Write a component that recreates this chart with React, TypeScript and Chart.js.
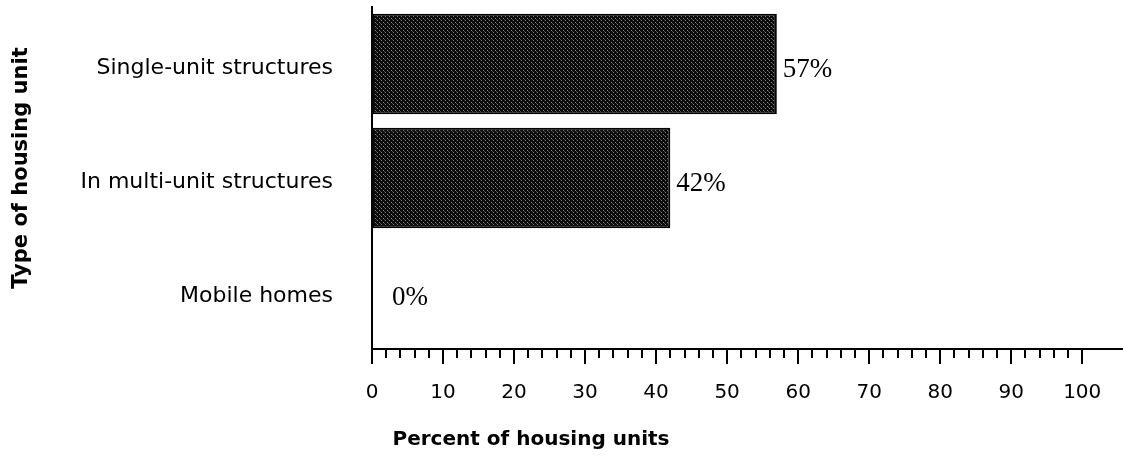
import React, { useEffect, useRef } from "react";
import { Chart, registerables } from "chart.js";

Chart.register(...registerables);

const categories = ["Single-unit structures", "In multi-unit structures", "Mobile homes"];
const percentValues = [57, 42, 0];
const xTickValues = [0, 10, 20, 30, 40, 50, 60, 70, 80, 90, 100];
const xMinorStep = 2;
const xAxisMax = 105.6;
const xTitle = "Percent of housing units";
const yTitle = "Type of housing unit";

function makePattern(): CanvasPattern | string {
  const c = document.createElement("canvas");
  c.width = 4;
  c.height = 4;
  const g = c.getContext("2d");
  if (!g) return "#222";
  g.fillStyle = "#0c0c0c";
  g.fillRect(0, 0, 4, 4);
  g.fillStyle = "#7a7a7a";
  g.fillRect(1, 0, 1, 1);
  g.fillRect(3, 2, 1, 1);
  g.fillStyle = "#4a4a4a";
  g.fillRect(0, 3, 1, 1);
  const p = g.createPattern(c, "repeat");
  return p || "#222";
}

const decorPlugin = {
  id: "decor",
  afterDraw(chart: any) {
    const ctx = chart.ctx;
    const xs = chart.scales.x;
    const ca = chart.chartArea;
    const axisY = xs.top;
    ctx.save();
    ctx.strokeStyle = "#000";
    ctx.lineWidth = 2;
    const last = xTickValues[xTickValues.length - 1];
    for (let v = xTickValues[0]; v <= last; v += xMinorStep) {
      const px = Math.round(xs.getPixelForValue(v));
      const major = v % 10 === 0;
      ctx.beginPath();
      ctx.moveTo(px, axisY);
      ctx.lineTo(px, axisY + (major ? 15 : 9));
      ctx.stroke();
    }
    // value labels
    const meta = chart.getDatasetMeta(0);
    ctx.fillStyle = "#000";
    ctx.font = '27px "Liberation Serif"';
    ctx.textBaseline = "middle";
    ctx.textAlign = "left";
    meta.data.forEach((bar: any, i: number) => {
      const v = percentValues[i];
      ctx.fillText(v + "%", bar.x + (v === 0 ? 20 : 6), bar.y + 6);
    });
    // axis titles
    ctx.font = 'bold 20px "DejaVu Sans"';
    ctx.textAlign = "center";
    ctx.fillText(xTitle, ca.left + 159, chart.height - 17);
    ctx.save();
    ctx.translate(22, (ca.top + ca.bottom) / 2 - 10);
    ctx.rotate(-Math.PI / 2);
    ctx.font = 'bold 21px "DejaVu Sans"';
    ctx.fillText(yTitle, 0, 0);
    ctx.restore();
    ctx.restore();
  },
};

export default function App() {
  const ref = useRef<HTMLCanvasElement | null>(null);
  useEffect(() => {
    if (!ref.current) return;
    Chart.defaults.font.family = '"DejaVu Sans"';
    Chart.defaults.color = "#000";
    const chart = new Chart(ref.current, {
      type: "bar",
      data: {
        labels: categories,
        datasets: [
          {
            data: percentValues,
            backgroundColor: makePattern() as any,
            borderColor: "#000",
            borderWidth: 2,
            borderSkipped: false,
            barPercentage: 0.88,
            categoryPercentage: 1,
          },
        ],
      },
      options: {
        indexAxis: "y",
        animation: false,
        responsive: true,
        maintainAspectRatio: false,
        layout: { padding: { top: 7, right: 1, bottom: 0, left: 0 } },
        plugins: { legend: { display: false }, tooltip: { enabled: false } },
        scales: {
          x: {
            type: "linear",
            min: 0,
            max: xAxisMax,
            afterBuildTicks: (scale: any) => {
              scale.ticks = xTickValues.map((v) => ({ value: v }));
            },
            afterFit: (scale: any) => {
              scale.height = 108;
              scale.paddingLeft = 0;
              scale.paddingRight = 0;
              scale.paddingTop = 0;
              scale.paddingBottom = 0;
            },
            grid: { display: false, drawTicks: false },
            border: { display: true, color: "#000", width: 2 },
            ticks: { padding: 32, font: { size: 20 }, color: "#000", maxRotation: 0, autoSkip: false },
            title: { display: false },
          },
          y: {
            grid: { display: false, drawTicks: false },
            border: { display: true, color: "#000", width: 2 },
            ticks: { padding: 39, labelOffset: 4, font: { size: 22 }, color: "#000" },
            afterFit: (scale: any) => {
              scale.width = 372;
              scale.paddingTop = 0;
              scale.paddingBottom = 0;
              scale.paddingLeft = 0;
              scale.paddingRight = 0;
            },
            title: { display: false },
          },
        },
      },
      plugins: [decorPlugin],
    });
    return () => chart.destroy();
  }, []);
  return (
    <div style={{ position: "fixed", left: 0, top: 0, width: 1123, height: 457, background: "#fff" }}>
      <canvas ref={ref} />
    </div>
  );
}
